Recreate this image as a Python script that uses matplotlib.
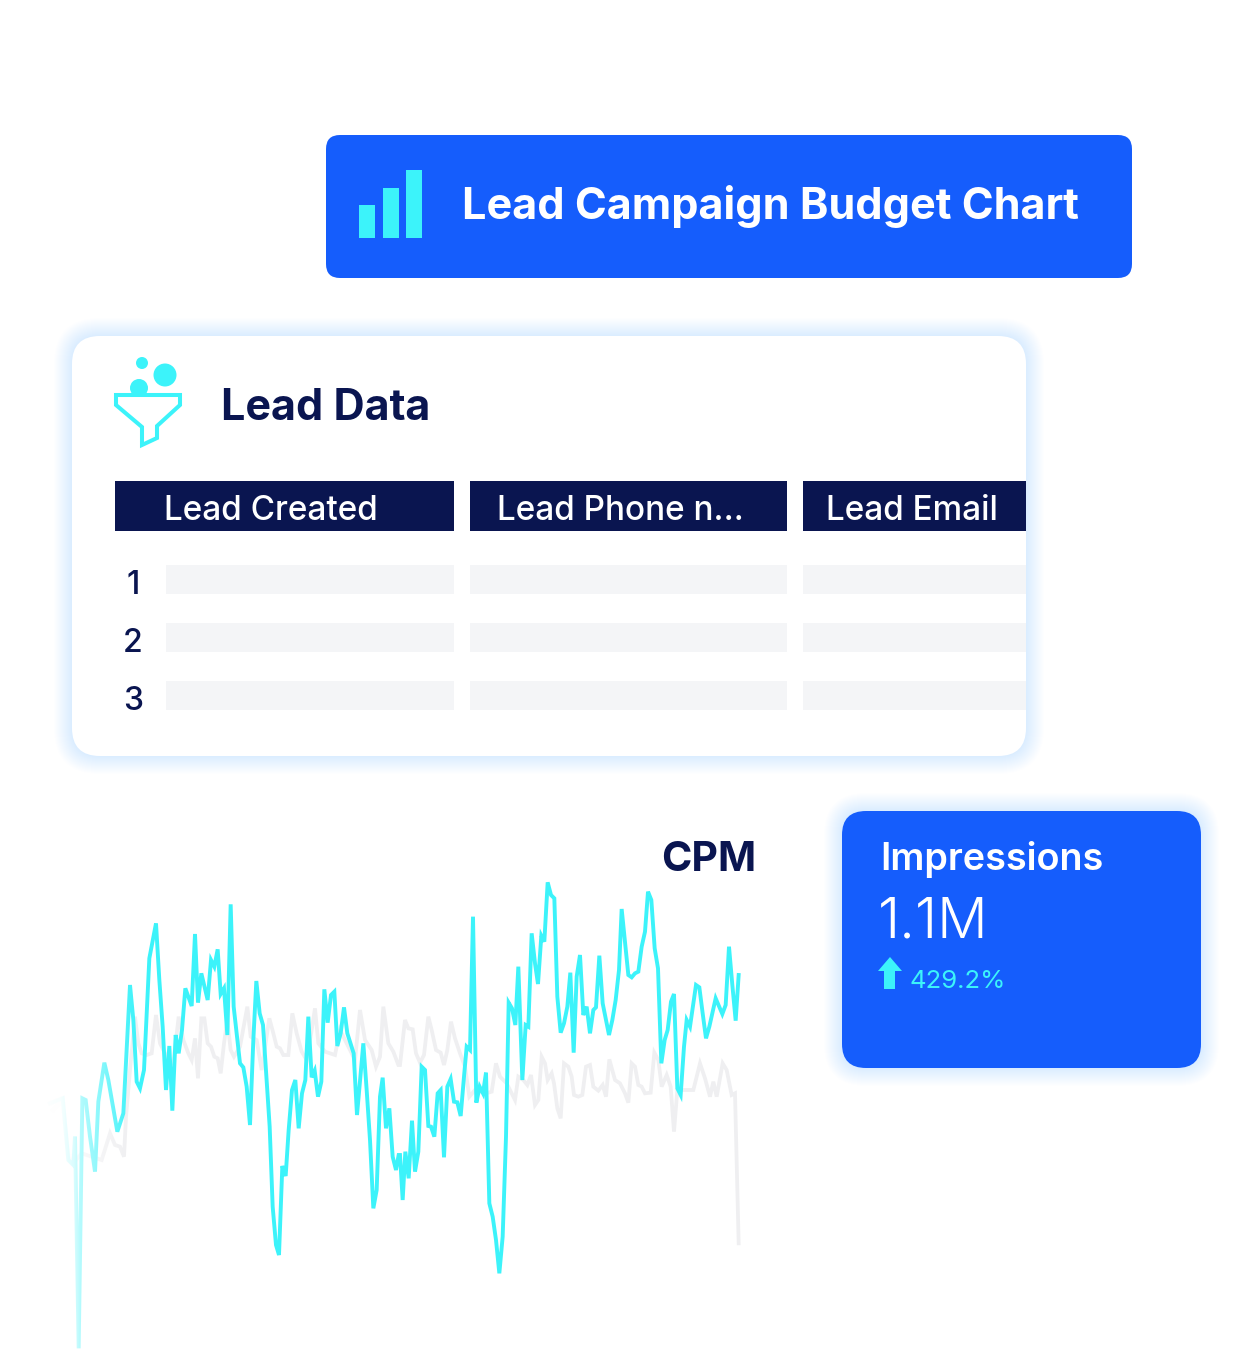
import numpy as np
import matplotlib
matplotlib.use('Agg')
import matplotlib.pyplot as plt
from matplotlib.patches import FancyBboxPatch, Rectangle, Circle, Polygon

plt.rcParams['font.family'] = ['Inter', 'DejaVu Sans']

# text
title = 'Lead Campaign Budget Chart'
table_title = 'Lead Data'
headers = ['Lead Created', 'Lead Phone n…', 'Lead Email']
row_labels = ['1', '2', '3']
chart_name = 'CPM'
card_name = 'Impressions'
card_value = '1.1M'
card_change = '429.2%'
icon_bars = [33, 50, 68]

# CPM line
cpm_x = [30, 68, 85, 100, 105, 116, 127, 137, 150, 165,
         175, 193, 205, 232, 250, 270, 280, 290, 300, 312,
         328, 348, 358, 368, 378, 388, 397, 407, 416, 426,
         436, 455, 465, 474, 484, 503, 513, 523, 533, 542,
         552, 562, 572, 581, 591, 600, 610, 620, 630, 640,
         649, 659, 669, 679, 689, 698, 708, 717, 727, 737,
         746, 756, 766, 776, 786, 796, 805, 815, 824, 834,
         844, 853, 863, 873, 883, 892, 902, 912, 922, 941,
         951, 970, 980, 990, 1000, 1010, 1020, 1028, 1038, 1048,
         1058, 1068, 1076,
         1080, 1088, 1096, 1106, 1116, 1125, 1135, 1145, 1155, 1165,
         1173, 1183, 1193, 1202, 1212, 1222, 1232, 1242, 1252, 1262,
         1272, 1280, 1290, 1299, 1309, 1319, 1329, 1338, 1348, 1358,
         1368, 1378, 1388, 1398, 1406, 1416, 1426, 1435, 1447, 1457,
         1465, 1475, 1485, 1494, 1504, 1513, 1523, 1533, 1543, 1552,
         1562, 1572, 1582, 1591, 1601, 1610, 1620, 1630, 1640, 1650,
         1660, 1668, 1678, 1688, 1707, 1717, 1727, 1737, 1745, 1755,
         1765, 1775, 1785, 1795, 1805, 1815, 1824, 1834, 1844, 1854,
         1864, 1874, 1883, 1893, 1902, 1912, 1922, 1932, 1940, 1950,
         1968, 1978, 1988, 1998, 2008, 2027, 2047, 2057, 2067, 2077,
         2087, 2096]
cpm_y = [740, 755, 570, 555, 640, 5, 755, 750, 640, 535,
         745, 862, 810, 655, 710, 1095, 990, 805, 785, 840,
         1175, 1280, 1110, 970, 780, 912, 718, 945, 890, 960,
         1085, 1032, 1248, 1042, 1130, 1050, 1170, 1150, 1202, 1068,
         1085, 945, 1337, 1030, 940, 860, 848, 790, 675, 930,
         1107, 1010, 975, 820, 670, 430, 315, 285, 552, 522,
         660, 780, 810, 665, 770, 810, 1000, 818, 838, 760,
         805, 1082, 982, 1065, 1075, 912, 950, 1028, 950, 890,
         705, 920, 780, 630, 425, 480, 760, 817, 665, 725,
         580, 540, 585,
         585, 450, 595, 515, 688, 535, 595, 850, 840, 672,
         670, 640, 770, 780, 578, 790, 813, 745, 743, 702,
         820, 910, 900, 1300, 742, 790, 770, 832, 440, 400,
         330, 230, 340, 640, 1042, 1025, 975, 1150, 810, 975,
         970, 1250, 1160, 1098, 1243, 1225, 1403, 1365, 1355, 1060,
         952, 980, 1030, 1132, 892, 1120, 1185, 1005, 1030, 950,
         1020, 1028, 1183, 1040, 945, 990, 1050, 1140, 1323, 1225,
         1125, 1118, 1130, 1135, 1210, 1255, 1375, 1350, 1205, 1145,
         860, 930, 960, 1045, 1068, 785, 765, 910, 990, 970,
         1095, 1088, 1010, 935, 970, 1055, 1008, 1035, 1210, 1095,
         988, 1125]

# comparison line behind it
prev_x = [40, 68, 85, 100, 125, 185, 210, 225, 240, 252,
          258, 270, 285, 295, 305, 320, 335, 348, 360, 380,
          400, 416, 430, 445, 455, 465, 474, 484, 493, 503,
          513, 523, 533, 542, 552, 562, 572, 582, 600, 622,
          632, 650, 665, 680, 688, 700, 710, 720, 730, 745,
          757, 770, 785, 800, 815, 825, 835, 855, 885, 900,
          930, 945, 960, 975, 995, 1008, 1020, 1030, 1045, 1060,
          1075,
          1080, 1095, 1105, 1118, 1128, 1140, 1152, 1165, 1175, 1188,
          1202, 1212, 1222, 1233, 1245, 1260, 1275, 1288, 1305, 1338,
          1355, 1368, 1380, 1400, 1425, 1435, 1450, 1462, 1473, 1485,
          1495, 1505, 1515, 1523, 1535, 1542, 1552, 1562, 1572, 1585,
          1595, 1602, 1615, 1627, 1638, 1650, 1660, 1675, 1688, 1698,
          1708, 1725, 1740, 1755, 1765, 1775, 1785, 1795, 1805, 1815,
          1832, 1843, 1855, 1865, 1880, 1892, 1902, 1912, 1940, 1960,
          1980, 1995, 2010, 2020, 2030, 2048, 2060, 2075, 2085, 2096]
prev_y = [720, 750, 580, 560, 590, 570, 650, 615, 610, 580,
          700, 840, 1000, 920, 890, 885, 890, 1005, 920, 880,
          860, 1000, 930, 890, 870, 935, 815, 995, 995, 920,
          910, 880, 875, 830, 920, 990, 900, 880, 910, 1030,
          940, 930, 840, 940, 995, 950, 910, 905, 885, 885,
          1010, 950, 895, 870, 960, 1025, 920, 895, 885, 960,
          900, 870, 1020, 930, 900, 850, 880, 1030, 920, 895,
          855,
          855, 990, 965, 962, 890, 862, 885, 1000, 960, 900,
          892, 855, 900, 985, 935, 890, 850, 760, 780, 770,
          775, 860, 820, 800, 750, 820, 810, 795, 825, 735,
          750, 880, 860, 810, 830, 800, 725, 695, 860, 850,
          820, 765, 760, 765, 850, 855, 790, 778, 795, 760,
          872, 810, 800, 770, 742, 860, 850, 795, 790, 770,
          772, 892, 870, 790, 825, 790, 655, 780, 780, 780,
          860, 815, 760, 805, 760, 860, 840, 765, 770, 320]

BLUE = '#155DFC'
NAVY = '#0A1550'
CYAN = '#3CF3FA'
ROW = '#F4F5F7'

fig = plt.figure(figsize=(12.59, 13.51), dpi=100)
ax = fig.add_axes([0, 0, 1, 1])
ax.set_xlim(0, 1259)
ax.set_ylim(1351, 0)
ax.axis('off')


def card(x0, y0, x1, y1, r, color, glow=True):
    if glow:
        for grow in range(1, 19):
            ax.add_patch(FancyBboxPatch((x0 - grow, y0 - grow), x1 - x0 + 2 * grow, y1 - y0 + 2 * grow,
                                        boxstyle=f'round,pad=0,rounding_size={r + grow}',
                                        fc='#4F8DFF', ec='none', alpha=0.009))
    ax.add_patch(FancyBboxPatch((x0, y0), x1 - x0, y1 - y0, boxstyle=f'round,pad=0,rounding_size={r}',
                                fc=color, ec='none'))


# title banner
card(326, 135, 1132, 278, 14, BLUE, glow=False)
ax.bar([367, 391, 414], [-h for h in icon_bars], width=16, bottom=238, color=CYAN)
ax.text(462, 206, title, color='white', fontsize=31.1, fontweight=700, va='center', ha='left')

# table card
card(72, 336, 1026, 756, 28, 'white')
ax.text(221, 408, table_title, color=NAVY, fontsize=31, fontweight=700, va='center', ha='left')

ax.add_patch(Circle((142, 363), 6, fc=CYAN, ec='none'))
ax.add_patch(Circle((165, 375), 11.5, fc=CYAN, ec='none'))
bubble = Circle((139, 388), 9, fc=CYAN, ec='none')
ax.add_patch(bubble)
bubble.set_clip_path(Rectangle((120, 370), 40, 25, transform=ax.transData))
ax.add_patch(Polygon([(116, 395), (180, 395), (180, 405), (157, 426), (157, 438), (142, 445), (142, 427), (116, 405)],
                     closed=True, fc='none', ec=CYAN, lw=2.9, joinstyle='miter'))

columns = [(115, 454), (470, 787), (803, 1026)]
header_x = [164, 497, 826]
for (x0, x1), tx, name in zip(columns, header_x, headers):
    ax.add_patch(Rectangle((x0, 481), x1 - x0, 50, fc=NAVY, ec='none'))
    ax.text(tx, 511, name, color='white', fontsize=24, fontweight=500, va='center', ha='left')

for i, label in enumerate(row_labels):
    y0 = 565 + i * 58
    ax.text(133, y0 + 20, label, color=NAVY, fontsize=23, fontweight=500, va='center', ha='center')
    for j, (x0, x1) in enumerate(columns):
        left = 166 if j == 0 else x0
        ax.add_patch(Rectangle((left, y0), x1 - left, 29, fc=ROW, ec='none'))

# impressions card
card(842, 811, 1201, 1068, 24, BLUE)
ax.text(880, 860, card_name, color='white', fontsize=27.2, fontweight=600, va='center', ha='left')
ax.text(878, 923, card_value, color='white', fontsize=40.5, fontweight=300, va='center', ha='left')
ax.text(910, 981, card_change, color=CYAN, fontsize=18.5, fontweight=400, va='center', ha='left')
ax.add_patch(Polygon([(890, 957), (878, 971), (884, 971), (884, 989), (895, 989), (895, 971), (902, 971)],
                     closed=True, fc=CYAN, ec='none'))

ax.text(709, 860, chart_name, color=NAVY, fontsize=29.5, fontweight=700, va='center', ha='center')

# line chart, its own axes over the 720x480 px area
lax = fig.add_axes([40 / 1259, 1 - 1350 / 1351, 720 / 1259, 480 / 1351])
lax.axis('off')
lax.patch.set_alpha(0)
lax.plot(prev_x, prev_y, color='#EFEFF1', lw=2.7, solid_joinstyle='miter', zorder=2)
lax.plot(cpm_x, cpm_y, color=CYAN, lw=2.8, solid_joinstyle='miter', zorder=3)

# white fade over the left end of the lines
fade = np.ones((1, 300, 4))
fade[0, :, 3] = np.interp(np.linspace(0, 300, 300), [0, 60, 100, 120, 175, 250, 300], [1, 0.97, 0.82, 0.62, 0.42, 0.1, 0])
lax.imshow(fade, extent=[0, 300, 0, 1440], aspect='auto', zorder=4, interpolation='bilinear')
lax.set_xlim(0, 2160)
lax.set_ylim(0, 1440)

fig.savefig('out.png', dpi=100, facecolor='white')
